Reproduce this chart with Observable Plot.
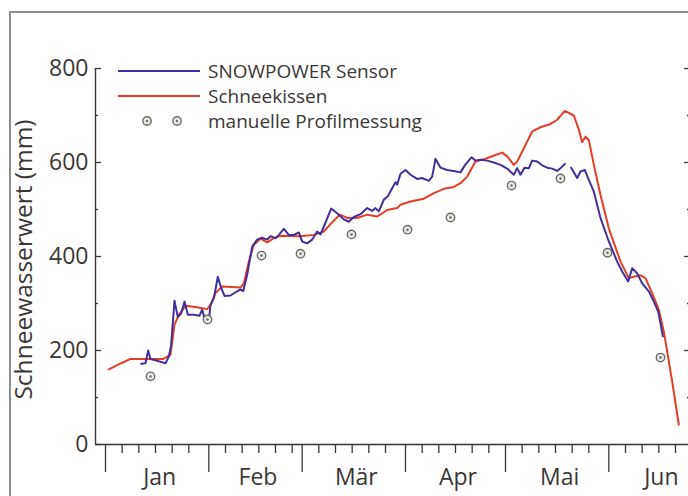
<!DOCTYPE html>
<html><head><meta charset="utf-8">
<script src="https://cdn.jsdelivr.net/npm/d3@7"></script>
<script src="https://cdn.jsdelivr.net/npm/@observablehq/plot@0.6"></script>
<style>
html,body{margin:0;padding:0;overflow:hidden;background:#fff;}
#chart{position:relative;width:688px;height:496px;overflow:hidden;}
#chart svg{max-width:none !important;}
</style></head><body><div id="chart"></div>
<script>
// Tage seit 1. Januar und Schneewasserwert (mm)
const sensorTag = [10.7,12,12.8,13.5,15,17,18,19,19.7,20.7,21.7,22.7,23.7,24.7,26.5,28.2,29,30,31,31.5,32.5,33.7,34.7,35.7,37.5,39.5,40.5,41.3,42.5,44,45.5,47,48.5,49.5,51,52,53.5,55,56.5,58,59,60.5,62,63.5,64.5,65.7,67.7,69.5,71.5,73,74.5,76.5,78.5,80,81,82,83.5,84.7,86,87,87.5,88.5,90,91.5,93.5,95,97,98,99,100.5,102.5,104.5,106.5,108,109.8,111,112.5,114.5,116.5,118.5,120.5,122.5,123.5,124.5,125.7,127,128,129.5,131,132.5,134,135.5,136.5,137.8,138.7,139.7,141.5,142.5,143.8,145,146.5,148.5,151,153.5,155,156.8,158,159.5,161,163,164.5,165.8,166.5,167.2];
const sensorWert = [172,173,200,182,179,175,173,187,212,306,271,279,304,276,276,274,287,262,262,297,311,357,333,316,317,326,330,326,361,421,436,440,436,443,439,446,459,446,446,451,432,428,436,453,447,467,502,492,479,474,484,490,503,497,503,496,521,528,545,558,553,576,584,574,565,567,561,570,608,589,584,582,579,596,611,604,606,604,600,595,587,574,588,574,589,588,604,602,594,589,587,582,588,597,null,589,567,581,584,563,538,482,432,389,368,347,375,364,343,326,304,283,258,230];
const kissenTag = [1,5,7.5,17.4,19.5,20.7,22,24,27.5,30.5,31.5,33,35,40.5,41.5,43,44.5,46.5,48.5,50.5,52.5,58.5,62.5,65.5,67.5,70.3,72.5,75.5,78.5,81.5,84.5,87.5,88.5,91.5,95.5,98.5,101.5,104.5,106.5,108.5,111,114,117,119,120.5,122.5,123.5,125.5,128,130.5,133.5,135.5,137.8,140.5,142,143,144,145,146.5,148.5,151,154.5,157,158.5,160.5,162,164,166,167.5,169,170,172];
const kissenWert = [160,174,182,182,191,255,276,295,292,288,297,322,336,334,343,389,425,438,430,439,444,443,446,453,469,489,482,482,489,485,499,503,510,517,523,535,544,548,556,570,602,608,616,621,613,595,602,630,666,675,682,691,710,700,670,643,655,648,595,531,460,389,354,357,360,354,322,287,240,177,134,42];
const messTag = [13.5,30.6,46.8,58.5,73.8,90.6,103.5,121.8,136.5,150.6,166.5];
const messWert = [145,266,402,406,447,457,483,551,566,408,185];

const monatsNamen = ["Jan","Feb","Mär","Apr","Mai","Jun"];
const yHauptTicks = [0,200,400,600,800];
const yNebenTicks = [100,300,500,700];
const nebenTage = [6,11,16,21,26];
const legendeText = ["SNOWPOWER Sensor","Schneekissen","manuelle Profilmessung"];
const yTitel = "Schneewasserwert (mm)";

const ink = "#3b3734";
const blau = "#41309a";
const rot = "#e53d26";
const font = "Open Sans";
const DAY = 864e5;
const base = Date.UTC(2009,0,1);
const toDate = t => new Date(base + t*DAY);

const sensor = sensorTag.map((t,i)=>({date: toDate(t), swe: sensorWert[i]}));
const kissen = kissenTag.map((t,i)=>({date: toDate(t), swe: kissenWert[i]}));
const mess = messTag.map((t,i)=>({date: toDate(t), swe: messWert[i]}));

const xDomain = [new Date(Date.UTC(2008,11,29)), toDate(175.2)];
const monatsStart = d3.utcMonth.range(new Date(Date.UTC(2009,0,1)), new Date(Date.UTC(2009,6,1)));
const nebenX = monatsStart.flatMap(m => nebenTage.map(d => d3.utcDay.offset(m, d-1))).filter(d => d < xDomain[1]);
const labelX = monatsStart.map(m => new Date((+m + +d3.utcMonth.offset(m,1))/2 + 0.75*DAY));

const legende = (index, scales, values, dim) => {
  const g = d3.create("svg:g").attr("font-family", font).attr("font-size", 19).attr("fill", ink).attr("text-anchor", "start");
  const x0 = dim.marginLeft + 23, x1 = dim.marginLeft + 105, tx = dim.marginLeft + 113;
  const rows = [dim.marginTop + 3, dim.marginTop + 28, dim.marginTop + 53];
  [blau, rot].forEach((c,i) => g.append("line").attr("x1",x0).attr("x2",x1).attr("y1",rows[i]).attr("y2",rows[i]).attr("stroke",c).attr("stroke-width",2));
  [x0+29, x0+59].forEach(cx => {
    g.append("circle").attr("cx",cx).attr("cy",rows[2]).attr("r",4.2).attr("fill","#e9e9e2").attr("stroke","#6b6b6b").attr("stroke-width",1.4);
    g.append("circle").attr("cx",cx).attr("cy",rows[2]).attr("r",1.2).attr("fill","#6b6b6b");
  });
  legendeText.forEach((t,i) => g.append("text").attr("x",tx).attr("y",rows[i]).attr("dy","0.36em").text(t));
  return g.node();
};

const axisStyle = {stroke: ink, strokeWidth: 1.3, fill: ink, label: null};
const chart = Plot.plot({
  width: 700, height: 496,
  marginTop: 68, marginBottom: 52, marginLeft: 95, marginRight: 11,
  style: {fontFamily: font, color: ink, background: "transparent", overflow: "visible", maxWidth: "none"},
  x: {type: "utc", domain: xDomain},
  y: {domain: [0, 800]},
  marks: [
    Plot.axisY({...axisStyle, ticks: yHauptTicks, tickSize: 6, dx: 6, tickPadding: 7, fontSize: 23}),
    Plot.axisY({...axisStyle, ticks: yNebenTicks, tickSize: 3, dx: 3, tickFormat: () => ""}),
    Plot.axisY({...axisStyle, anchor: "right", ticks: yHauptTicks.slice(1), tickSize: 6, dx: -6, tickFormat: () => ""}),
    Plot.axisY({...axisStyle, anchor: "right", ticks: yNebenTicks, tickSize: 3, dx: -3, tickFormat: () => ""}),
    Plot.axisX({...axisStyle, ticks: monatsStart, tickSize: 28, tickFormat: () => ""}),
    Plot.axisX({...axisStyle, ticks: nebenX, tickSize: 9, tickFormat: () => ""}),
    Plot.axisX({...axisStyle, ticks: labelX, tickSize: 0, tickPadding: 24, fontSize: 23, tickFormat: d => monatsNamen[d.getUTCMonth()]}),
    Plot.ruleX([xDomain[0]], {stroke: ink, strokeWidth: 1.4}),
    Plot.ruleY([0], {stroke: ink, strokeWidth: 1.4}),
    Plot.text([yTitel], {frameAnchor: "left", textAnchor: "middle", lineAnchor: "middle", rotate: -90, dx: -71, dy: 3, fontSize: 24.5, fill: ink}),
    Plot.line(kissen, {x: "date", y: "swe", stroke: rot, strokeWidth: 2}),
    Plot.line(sensor, {x: "date", y: "swe", stroke: blau, strokeWidth: 2}),
    Plot.dot(mess, {x: "date", y: "swe", r: 4.2, fill: "#e9e9e2", stroke: "#6b6b6b", strokeWidth: 1.4}),
    Plot.dot(mess, {x: "date", y: "swe", r: 1.2, fill: "#6b6b6b"}),
    legende
  ]
});
chart.style.maxWidth = "none";
d3.select(chart).insert("rect", ":first-child")
  .attr("x", 10).attr("y", 12).attr("width", 740).attr("height", 540)
  .attr("fill", "none").attr("stroke", "#8c8c8c").attr("stroke-width", 2);
document.getElementById("chart").append(chart);
</script></body></html>
